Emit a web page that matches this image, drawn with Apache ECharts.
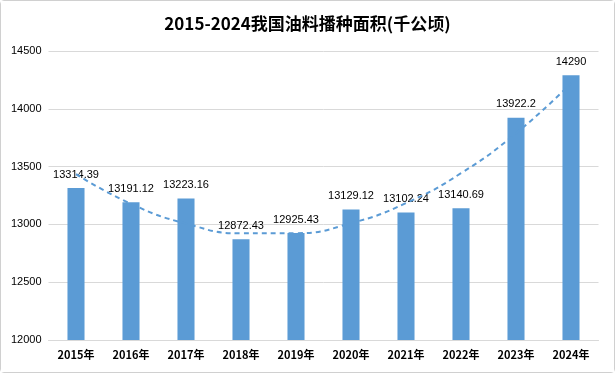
<!DOCTYPE html>
<html><head><meta charset="utf-8">
<script src="https://cdn.jsdelivr.net/npm/echarts@6/dist/echarts.min.js"></script>
<style>
html,body{margin:0;padding:0;background:#fff;}
#c{position:absolute;left:0;top:0;width:613px;height:371px;border:1px solid #d0d0d0;border-radius:4px;}
</style></head>
<body><div id="c"></div>
<script>
const categories = ['2015年','2016年','2017年','2018年','2019年','2020年','2021年','2022年','2023年','2024年'];
const areaValues = [13314.39, 13191.12, 13223.16, 12872.43, 12925.43, 13129.12, 13102.24, 13140.69, 13922.2, 14290];
const trendValues = [13435, 13178, 13007, 12923, 12924, 13011, 13184, 13443, 13788, 14219];
const titleText = '2015-2024我国油料播种面积(千公顷)';

const chart = echarts.init(document.getElementById('c'));
chart.setOption({
  animation: false,
  backgroundColor: '#fff',
  title: {
    text: titleText, left: 'center', top: 9,
    textStyle: {fontSize: 17, fontWeight: 'bold', color: '#000', fontFamily: 'Noto Sans CJK SC'}
  },
  grid: {left: 47.5, right: 15.5, top: 50, bottom: 32},
  xAxis: {
    type: 'category', data: categories,
    axisTick: {show: false},
    axisLine: {lineStyle: {color: '#d9d9d9'}},
    axisLabel: {color: '#000', fontSize: 11, fontWeight: 'bold', margin: 9, fontFamily: 'Noto Sans CJK SC'}
  },
  yAxis: {
    type: 'value', min: 12000, max: 14500, interval: 500,
    axisLine: {show: false}, axisTick: {show: false},
    splitLine: {lineStyle: {color: '#d9d9d9'}},
    axisLabel: {color: '#000', fontSize: 11, margin: 7, fontFamily: 'Liberation Sans', formatter: v => String(v)}
  },
  series: [
    {
      type: 'bar', data: areaValues, barWidth: '31%',
      itemStyle: {color: '#5b9bd5'},
      label: {show: true, position: 'top', distance: 8, color: '#000', fontSize: 11, fontFamily: 'Liberation Sans'}
    },
    {
      type: 'line', data: trendValues, smooth: true, symbol: 'none',
      lineStyle: {color: '#5b9bd5', width: 2, type: [5, 4]},
      z: 3
    }
  ]
});
</script></body></html>
